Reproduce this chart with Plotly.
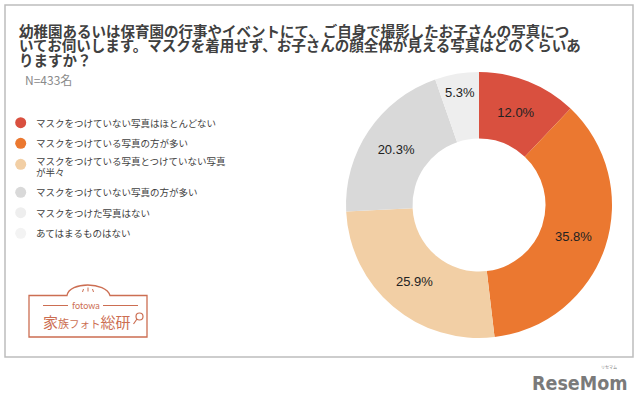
import plotly.graph_objects as go

# ---- data ----
categories = [
    "マスクをつけていない写真はほとんどない",
    "マスクをつけている写真の方が多い",
    "マスクをつけている写真とつけていない写真<br>が半々",
    "マスクをつけていない写真の方が多い",
    "マスクをつけた写真はない",
    "あてはまるものはない",
]
values = [12.0, 35.8, 25.9, 20.3, 5.3, 0.0]
colors = ["#d9503f", "#eb7830", "#f2cfa5", "#d9d9d9", "#eeeeee", "#f3f3f3"]

title_lines = [
    "幼稚園あるいは保育園の行事やイベントにて、ご自身で撮影したお子さんの写真につ",
    "いてお伺いします。マスクを着用せず、お子さんの顔全体が見える写真はどのくらいあ",
    "りますか？",
]
sample_note = "N=433名"

W, H = 640, 401
JP = "Noto Sans CJK JP"

fig = go.Figure()

# donut
cx, cy, r = 479, 205, 133
fig.add_trace(go.Pie(
    labels=[c.replace("<br>", "") for c in categories],
    values=values,
    marker=dict(colors=colors, line=dict(width=0)),
    hole=0.5,
    sort=False,
    direction="clockwise",
    rotation=0,
    texttemplate="%{value:.1f}%",
    textposition="inside",
    insidetextorientation="horizontal",
    textfont=dict(family="Liberation Sans, Arial, sans-serif", size=13, color="#222222"),
    domain=dict(x=[(cx - r) / W, (cx + r) / W], y=[1 - (cy + r) / H, 1 - (cy - r) / H]),
    showlegend=False,
    hoverinfo="label+value",
))

shapes = []
annotations = []

# outer frame
shapes.append(dict(type="rect", xref="x", yref="y", x0=5, y0=5, x1=633, y1=357,
                   line=dict(color="#bdbdbd", width=1.5), fillcolor="rgba(0,0,0,0)"))

# title
for i, line in enumerate(title_lines):
    annotations.append(dict(xref="x", yref="y", x=17, y=30.3 + i * 14.4, text="<b>" + line + "</b>",
                            showarrow=False, xanchor="left", yanchor="middle",
                            font=dict(family=JP, size=14.5, color="#404040")))
annotations.append(dict(xref="x", yref="y", x=23, y=79, text=sample_note, showarrow=False,
                        xanchor="left", yanchor="middle",
                        font=dict(family=JP, size=12, color="#8a8a8a")))

# custom legend
legend_y = [122.7, 143.3, 164.3, 192.3, 212.7, 233.3]
for cat, col, ly in zip(categories, colors, legend_y):
    rr = 5.5
    shapes.append(dict(type="circle", xref="x", yref="y", x0=20.7 - rr, x1=20.7 + rr,
                       y0=ly - rr, y1=ly + rr, fillcolor=col, line=dict(width=0)))
    parts = cat.split("<br>")
    if len(parts) == 1:
        ys = [ly]
    else:
        ys = [ly - 3, ly + 7.2]
    for part, ty in zip(parts, ys):
        annotations.append(dict(xref="x", yref="y", x=34, y=ty, text=part, showarrow=False,
                                xanchor="left", yanchor="middle", align="left",
                                font=dict(family=JP, size=9.5, color="#404040")))

# fotowa logo
lc = "#cc6e52"
shapes.append(dict(type="path", xref="x", yref="y",
                   path="M 29 337 L 29 295.5 L 67 295.5 C 69 281.5, 106 281.5, 110 295.5 L 147 295.5 L 147 337 Z",
                   line=dict(color=lc, width=1.3), fillcolor="rgba(0,0,0,0)"))
for (x0, y0, x1, y1) in [(43, 305.5, 68, 305.5), (103, 305.5, 138, 305.5),
                         (83.5, 289, 82.5, 292), (88, 287.5, 88, 291.5), (92.5, 289, 93.5, 292)]:
    shapes.append(dict(type="line", xref="x", yref="y", x0=x0, y0=y0, x1=x1, y1=y1,
                       line=dict(color=lc, width=1)))
annotations.append(dict(xref="x", yref="y", x=85.5, y=305, text="fotowa", showarrow=False,
                        xanchor="center", yanchor="middle",
                        font=dict(family="Lato, sans-serif", size=9, color=lc)))
annotations.append(dict(xref="x", yref="y", x=41, y=321,
                        text="家<span style='font-size:11px'>族</span><span style='font-size:10.5px'>フォト</span>総研",
                        showarrow=False, xanchor="left", yanchor="middle",
                        font=dict(family=JP, size=15, color=lc)))
shapes.append(dict(type="circle", xref="x", yref="y", x0=136, y0=313, x1=143, y1=320,
                   line=dict(color=lc, width=1.2), fillcolor="rgba(0,0,0,0)"))
shapes.append(dict(type="line", xref="x", yref="y", x0=137, y0=319, x1=133.5, y1=324,
                   line=dict(color=lc, width=1.2)))

# ReseMom logo
annotations.append(dict(xref="x", yref="y", x=630, y=383.5, text="<b>ReseMom</b>", showarrow=False,
                        xanchor="right", yanchor="middle",
                        font=dict(family="DejaVu Sans Condensed, DejaVu Sans, sans-serif", size=19.5, color="#7a7a7a")))
annotations.append(dict(xref="x", yref="y", x=609, y=367, text="リセマム", showarrow=False,
                        xanchor="center", yanchor="middle",
                        font=dict(family=JP, size=4, color="#7a7a7a")))

fig.update_layout(
    width=W, height=H,
    margin=dict(l=0, r=0, t=0, b=0),
    paper_bgcolor="white", plot_bgcolor="rgba(0,0,0,0)",
    xaxis=dict(range=[0, W], visible=False, domain=[0, 1], fixedrange=True),
    yaxis=dict(range=[H, 0], visible=False, domain=[0, 1], fixedrange=True),
    shapes=shapes, annotations=annotations,
    showlegend=False,
)

fig.write_html("out.html")
